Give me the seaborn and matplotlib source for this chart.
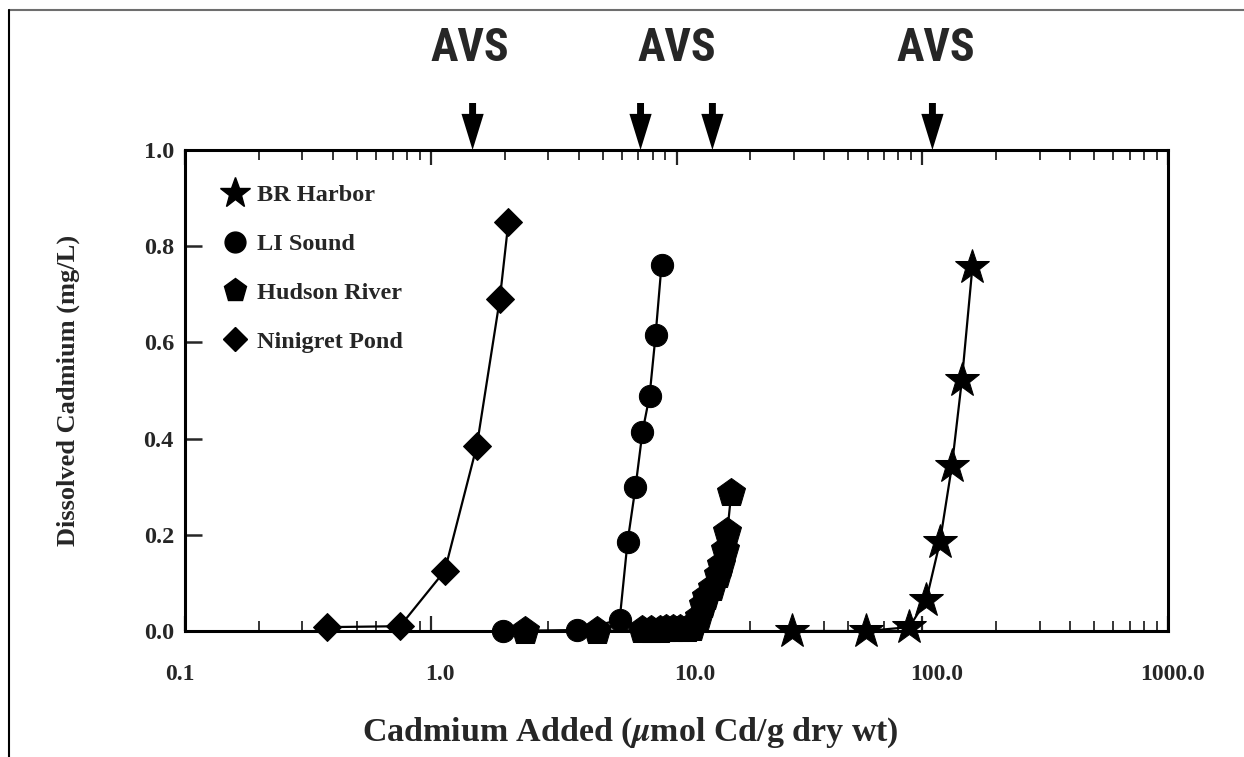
import matplotlib
matplotlib.use("Agg")
import matplotlib.pyplot as plt
from matplotlib.lines import Line2D
from matplotlib.ticker import LogLocator, NullFormatter, FixedLocator
from matplotlib.transforms import ScaledTranslation
import seaborn as sns
import numpy as np
import pandas as pd

# ---------------- data ----------------
sites = ["BR Harbor", "LI Sound", "Hudson River", "Ninigret Pond"]

br_x = [29.6, 59.2, 88.5, 103.8, 118, 132, 145, 160]
br_y = [0.0, 0.0, 0.008, 0.064, 0.185, 0.343, 0.522, 0.757]

li_x = [1.96, 3.92, 5.87, 6.32, 6.81, 7.27, 7.77, 8.22, 8.69]
li_y = [0.0, 0.002, 0.023, 0.185, 0.299, 0.414, 0.489, 0.615, 0.761]

hudson_x = [2.41, 4.73, 7.21, 7.91, 8.53, 9.1, 9.64, 10.3, 11.0, 11.6,
            12.3, 12.8, 13.2, 14.0, 14.7, 15.2, 15.7, 16.1, 16.7]
hudson_y = [0.0, 0.0, 0.002, 0.003, 0.003, 0.004, 0.004, 0.005, 0.005, 0.006,
            0.029, 0.054, 0.071, 0.089, 0.116, 0.137, 0.168, 0.206, 0.287]

ninigret_x = [0.377, 0.75, 1.14, 1.54, 1.91, 2.07]
ninigret_y = [0.008, 0.010, 0.125, 0.385, 0.69, 0.85]

avs_arrow_x = [1.48, 7.14, 14.0, 110.0]
avs_label_x = [1.44, 10.0, 114.0]
avs_label = "AVS"

xtick_vals = [0.1, 1.0, 10.0, 100.0, 1000.0]
xtick_labels = ["0.1", "1.0", "10.0", "100.0", "1000.0"]
ytick_vals = [0.0, 0.2, 0.4, 0.6, 0.8, 1.0]
ytick_labels = ["0.0", "0.2", "0.4", "0.6", "0.8", "1.0"]

xlabel = r"Cadmium Added ($\mu$mol Cd/g dry wt)"
ylabel = "Dissolved Cadmium (mg/L)"

# ---------------- style ----------------
sns.set_style("ticks")
plt.rcParams["font.family"] = ["Liberation Serif", "DejaVu Serif"]
plt.rcParams["font.weight"] = "bold"
plt.rcParams["mathtext.fontset"] = "stix"

fig = plt.figure(figsize=(12.44, 7.57), dpi=100)
fig.patch.set_facecolor("white")
ax = fig.add_axes([185 / 1244, 1 - 631 / 757, 983 / 1244, 481 / 757])
ax.set_facecolor("white")

series = [
    (br_x, br_y, "*", 26),
    (li_x, li_y, "o", 16),
    (hudson_x, hudson_y, "p", 21),
    (ninigret_x, ninigret_y, "D", 14),
]
for (xs, ys, mk, ms), name in zip(series, sites):
    df = pd.DataFrame({"x": xs, "y": ys})
    sns.lineplot(data=df, x="x", y="y", ax=ax, color="black", linewidth=1.6,
                 marker=mk, markersize=ms, markeredgecolor="black",
                 markerfacecolor="black", estimator=None, sort=False,
                 legend=False, clip_on=False, zorder=3)

ax.set_xscale("log")
ax.set_xlim(0.1, 1000.0)
ax.set_ylim(0.0, 1.0)
ax.xaxis.set_major_locator(FixedLocator(xtick_vals))
ax.set_xticks(xtick_vals, xtick_labels)
ax.xaxis.set_minor_locator(LogLocator(base=10, subs=np.arange(2, 10)))
ax.xaxis.set_minor_formatter(NullFormatter())
ax.set_yticks(ytick_vals, ytick_labels)

for s in ax.spines.values():
    s.set_linewidth(2.2)
    s.set_color("black")
    s.set_visible(True)

ax.tick_params(axis="x", which="major", direction="in", length=11, width=1.6,
               top=True, bottom=True, pad=24, labelsize=17)
ax.tick_params(axis="x", which="minor", direction="in", length=7, width=1.3,
               top=True, bottom=True)
ax.tick_params(axis="y", which="major", direction="in", length=12, width=1.8,
               left=True, right=False, pad=8, labelsize=17.5)
for lab in ax.get_xticklabels() + ax.get_yticklabels():
    lab.set_fontweight("bold")

# the original's x tick labels sit slightly off their ticks
label_shift_px = [-5, 9, 18, 14, 5]
for lab, dx in zip(ax.get_xticklabels(), label_shift_px):
    lab.set_transform(lab.get_transform() + ScaledTranslation(dx / 100, 0, fig.dpi_scale_trans))

ax.set_xlabel(xlabel, fontsize=24.5, fontweight="bold")
ax.set_ylabel(ylabel, fontsize=19, fontweight="bold")
ax.xaxis.label.set_va("center")
ax.yaxis.label.set_va("center")
ax.xaxis.set_label_coords(0.4527, -0.212)
ax.yaxis.set_label_coords(-0.119, 0.5)

# legend (markers only)
handles = [
    Line2D([], [], ls="none", marker="*", markersize=23, color="black"),
    Line2D([], [], ls="none", marker="o", markersize=15, color="black"),
    Line2D([], [], ls="none", marker="p", markersize=17, color="black"),
    Line2D([], [], ls="none", marker="D", markersize=12, color="black"),
]
leg = ax.legend(handles, sites, loc="upper left", bbox_to_anchor=(0.029, 0.949),
                frameon=False, handlelength=1.0, handletextpad=0.4,
                labelspacing=1.1, borderaxespad=0.0,
                prop={"family": "Liberation Serif", "weight": "bold", "size": 17.5})

# AVS arrows
for xv in avs_arrow_x:
    ax.annotate("", xy=(xv, 1.0), xytext=(xv, 1.0 + 47 / 481),
                xycoords="data", textcoords="data", annotation_clip=False,
                arrowprops=dict(arrowstyle="simple,head_length=2.6,head_width=1.6,tail_width=0.5",
                                mutation_scale=10, color="black", lw=0,
                                shrinkA=0, shrinkB=0))
for xv in avs_label_x:
    ax.text(xv, 1.0 + (631 - 48 - 481) / 481, avs_label,
            ha="center", va="center", fontsize=33, fontweight="bold",
            fontstretch="condensed",
            family=["Liberation Sans Narrow", "DejaVu Sans Condensed",
                    "Roboto Condensed", "Liberation Sans"],
            clip_on=False)

# page frame lines
fig.add_artist(Line2D([9 / 1244, 1.0], [1 - 10 / 757, 1 - 10 / 757],
                      transform=fig.transFigure, color="#6e6e6e", lw=1.5))
fig.add_artist(Line2D([9 / 1244, 9 / 1244], [0.0, 1 - 10 / 757],
                      transform=fig.transFigure, color="black", lw=1.5))

fig.savefig("out.png", dpi=100)
